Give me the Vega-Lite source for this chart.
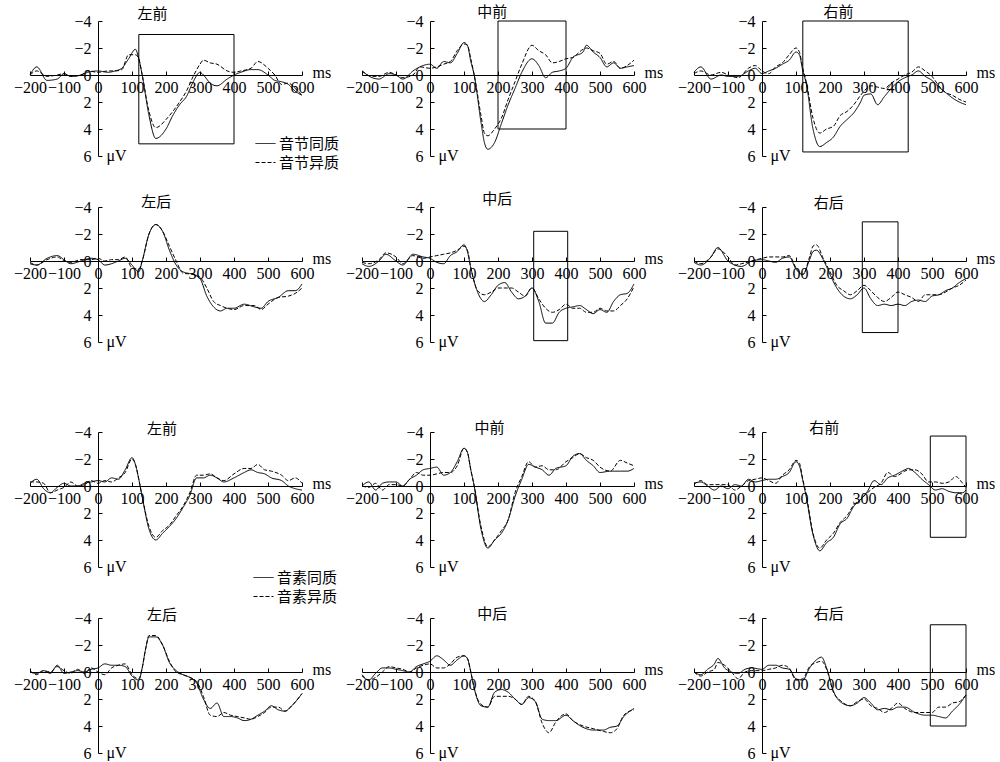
{
"$schema":"https://vega.github.io/schema/vega-lite/v6.json",
"padding":{"left":13,"top":5,"right":0,"bottom":0},
"data":{"values":[
{"p":1,"t":-200,"s":0,"d":0},{"p":1,"t":-180,"s":-0.6,"d":-0.3},{"p":1,"t":-150,"s":0.4,"d":0.1},{"p":1,"t":-120,"s":0.3,"d":0},{"p":1,"t":-100,"s":-0.1,"d":-0.1},{"p":1,"t":-80,"s":0.1,"d":0.1},{"p":1,"t":-50,"s":0,"d":0},{"p":1,"t":-30,"s":-0.2,"d":-0.3},{"p":1,"t":0,"s":-0.3,"d":-0.2},{"p":1,"t":30,"s":-0.2,"d":-0.3},{"p":1,"t":50,"s":-0.3,"d":-0.3},{"p":1,"t":70,"s":-0.5,"d":-0.4},{"p":1,"t":90,"s":-1.2,"d":-1.5},{"p":1,"t":110,"s":-1.9,"d":-1.5},{"p":1,"t":120,"s":-1.2,"d":-1.2},{"p":1,"t":130,"s":0,"d":0},{"p":1,"t":150,"s":3.0,"d":2.7},{"p":1,"t":170,"s":4.7,"d":3.9},{"p":1,"t":180,"s":4.6,"d":3.8},{"p":1,"t":200,"s":4.0,"d":3.3},{"p":1,"t":220,"s":3.0,"d":2.7},{"p":1,"t":240,"s":2.2,"d":2.0},{"p":1,"t":260,"s":1.6,"d":1.2},{"p":1,"t":280,"s":0.5,"d":0.1},{"p":1,"t":300,"s":-0.2,"d":-0.8},{"p":1,"t":310,"s":0,"d":-1.1},{"p":1,"t":330,"s":0.6,"d":-0.9},{"p":1,"t":350,"s":0.8,"d":-0.8},{"p":1,"t":380,"s":0.3,"d":-0.3},{"p":1,"t":400,"s":0,"d":-0.2},{"p":1,"t":420,"s":-0.2,"d":-0.3},{"p":1,"t":450,"s":-0.4,"d":-0.5},{"p":1,"t":470,"s":-0.4,"d":-1.0},{"p":1,"t":500,"s":0,"d":-0.5},{"p":1,"t":520,"s":0.4,"d":0},{"p":1,"t":540,"s":0.5,"d":0.7},{"p":1,"t":560,"s":0.7,"d":0.6},{"p":1,"t":580,"s":1.2,"d":1.0},{"p":1,"t":600,"s":1.5,"d":1.5},
{"p":2,"t":-200,"s":-0.3,"d":-0.3},{"p":2,"t":-170,"s":0.2,"d":0.1},{"p":2,"t":-150,"s":0.3,"d":0.1},{"p":2,"t":-120,"s":-0.1,"d":-0.2},{"p":2,"t":-100,"s":0,"d":0},{"p":2,"t":-80,"s":0.3,"d":0.2},{"p":2,"t":-50,"s":-0.3,"d":0},{"p":2,"t":-30,"s":-0.6,"d":-0.6},{"p":2,"t":0,"s":-0.8,"d":-0.5},{"p":2,"t":20,"s":-0.5,"d":-0.6},{"p":2,"t":40,"s":-1.0,"d":-0.8},{"p":2,"t":60,"s":-0.9,"d":-1.0},{"p":2,"t":80,"s":-1.6,"d":-1.8},{"p":2,"t":100,"s":-2.4,"d":-2.3},{"p":2,"t":110,"s":-2.2,"d":-2.2},{"p":2,"t":120,"s":-1.0,"d":-1.2},{"p":2,"t":130,"s":0,"d":0},{"p":2,"t":150,"s":3.5,"d":3.0},{"p":2,"t":160,"s":5.0,"d":4.3},{"p":2,"t":170,"s":5.5,"d":4.5},{"p":2,"t":190,"s":5.0,"d":4.0},{"p":2,"t":210,"s":3.6,"d":3.2},{"p":2,"t":230,"s":2.2,"d":1.8},{"p":2,"t":250,"s":1.0,"d":0.5},{"p":2,"t":270,"s":-0.2,"d":-0.8},{"p":2,"t":300,"s":-1.2,"d":-2.2},{"p":2,"t":320,"s":-0.7,"d":-1.8},{"p":2,"t":340,"s":0.2,"d":-1.5},{"p":2,"t":360,"s":-0.2,"d":-0.9},{"p":2,"t":380,"s":-0.3,"d":-1.0},{"p":2,"t":400,"s":-0.5,"d":-1.2},{"p":2,"t":420,"s":-1.3,"d":-1.3},{"p":2,"t":450,"s":-1.7,"d":-1.9},{"p":2,"t":460,"s":-2.2,"d":-2.0},{"p":2,"t":480,"s":-1.7,"d":-1.8},{"p":2,"t":500,"s":-1.3,"d":-1.6},{"p":2,"t":520,"s":-0.6,"d":-0.8},{"p":2,"t":540,"s":-0.9,"d":-1.0},{"p":2,"t":560,"s":-0.5,"d":-0.5},{"p":2,"t":580,"s":-0.6,"d":-0.7},{"p":2,"t":600,"s":-0.7,"d":-1.1},
{"p":3,"t":-200,"s":-0.2,"d":-0.1},{"p":3,"t":-180,"s":-0.6,"d":-0.3},{"p":3,"t":-150,"s":0.3,"d":0},{"p":3,"t":-120,"s":0,"d":-0.2},{"p":3,"t":-100,"s":0.1,"d":0},{"p":3,"t":-70,"s":0.1,"d":0.2},{"p":3,"t":-40,"s":-0.3,"d":-0.5},{"p":3,"t":-20,"s":-0.5,"d":-0.7},{"p":3,"t":0,"s":-0.1,"d":-0.3},{"p":3,"t":20,"s":-0.3,"d":-0.1},{"p":3,"t":40,"s":-0.5,"d":-0.6},{"p":3,"t":60,"s":-0.8,"d":-0.9},{"p":3,"t":80,"s":-1.1,"d":-1.5},{"p":3,"t":100,"s":-1.7,"d":-2.0},{"p":3,"t":110,"s":-1.5,"d":-1.7},{"p":3,"t":120,"s":-0.3,"d":-0.5},{"p":3,"t":130,"s":0.6,"d":0.5},{"p":3,"t":150,"s":4.0,"d":3.2},{"p":3,"t":170,"s":5.3,"d":4.3},{"p":3,"t":190,"s":5.0,"d":4.0},{"p":3,"t":210,"s":4.6,"d":3.8},{"p":3,"t":230,"s":3.8,"d":3.0},{"p":3,"t":250,"s":3.3,"d":2.7},{"p":3,"t":270,"s":2.8,"d":2.2},{"p":3,"t":290,"s":2.0,"d":1.5},{"p":3,"t":300,"s":1.5,"d":1.2},{"p":3,"t":320,"s":1.4,"d":0.8},{"p":3,"t":340,"s":2.2,"d":0.9},{"p":3,"t":360,"s":1.6,"d":1.0},{"p":3,"t":380,"s":1.0,"d":0.6},{"p":3,"t":400,"s":0.5,"d":0.3},{"p":3,"t":420,"s":0.2,"d":0},{"p":3,"t":440,"s":0,"d":-0.2},{"p":3,"t":460,"s":-0.3,"d":-0.6},{"p":3,"t":480,"s":0.1,"d":-0.3},{"p":3,"t":500,"s":0.4,"d":0.1},{"p":3,"t":520,"s":0.9,"d":0.8},{"p":3,"t":540,"s":1.3,"d":1.3},{"p":3,"t":560,"s":1.7,"d":1.5},{"p":3,"t":580,"s":2.0,"d":1.8},{"p":3,"t":600,"s":2.2,"d":2.0},
{"p":4,"t":-200,"s":0.2,"d":0.1},{"p":4,"t":-180,"s":0.3,"d":0.3},{"p":4,"t":-150,"s":-0.2,"d":-0.1},{"p":4,"t":-120,"s":-0.4,"d":-0.3},{"p":4,"t":-100,"s":-0.1,"d":0},{"p":4,"t":-80,"s":0.2,"d":0.1},{"p":4,"t":-50,"s":0,"d":-0.1},{"p":4,"t":-20,"s":-0.2,"d":-0.1},{"p":4,"t":0,"s":-0.1,"d":-0.2},{"p":4,"t":20,"s":0.3,"d":0},{"p":4,"t":40,"s":0.2,"d":-0.1},{"p":4,"t":60,"s":0,"d":-0.1},{"p":4,"t":80,"s":-0.2,"d":-0.3},{"p":4,"t":100,"s":0.3,"d":0.5},{"p":4,"t":120,"s":0.8,"d":0.6},{"p":4,"t":130,"s":0,"d":0},{"p":4,"t":150,"s":-2.0,"d":-2.0},{"p":4,"t":170,"s":-2.7,"d":-2.7},{"p":4,"t":190,"s":-2.2,"d":-2.2},{"p":4,"t":210,"s":-0.8,"d":-1.1},{"p":4,"t":230,"s":0.3,"d":0},{"p":4,"t":250,"s":0.8,"d":0.9},{"p":4,"t":280,"s":1.0,"d":1.0},{"p":4,"t":300,"s":1.3,"d":1.2},{"p":4,"t":320,"s":2.6,"d":2.0},{"p":4,"t":340,"s":3.4,"d":3.0},{"p":4,"t":360,"s":3.7,"d":3.3},{"p":4,"t":380,"s":3.5,"d":3.5},{"p":4,"t":400,"s":3.5,"d":3.6},{"p":4,"t":430,"s":3.2,"d":3.3},{"p":4,"t":460,"s":3.4,"d":3.3},{"p":4,"t":480,"s":3.5,"d":3.6},{"p":4,"t":500,"s":3.0,"d":3.2},{"p":4,"t":530,"s":2.7,"d":2.7},{"p":4,"t":560,"s":2.2,"d":2.6},{"p":4,"t":580,"s":2.2,"d":2.4},{"p":4,"t":600,"s":1.7,"d":2.0},
{"p":5,"t":-200,"s":0.2,"d":0.1},{"p":5,"t":-180,"s":0.4,"d":0.2},{"p":5,"t":-150,"s":0,"d":-0.1},{"p":5,"t":-130,"s":-0.5,"d":-0.6},{"p":5,"t":-100,"s":0,"d":-0.3},{"p":5,"t":-80,"s":0.3,"d":0.2},{"p":5,"t":-50,"s":-0.5,"d":-0.4},{"p":5,"t":-20,"s":-0.3,"d":-0.2},{"p":5,"t":0,"s":-0.2,"d":-0.3},{"p":5,"t":20,"s":0.1,"d":-0.4},{"p":5,"t":40,"s":0.2,"d":-0.5},{"p":5,"t":60,"s":-0.4,"d":-0.6},{"p":5,"t":80,"s":-0.7,"d":-0.8},{"p":5,"t":100,"s":-1.2,"d":-1.1},{"p":5,"t":110,"s":-0.7,"d":-0.8},{"p":5,"t":120,"s":0.5,"d":0.5},{"p":5,"t":140,"s":2.3,"d":2.2},{"p":5,"t":160,"s":3.0,"d":2.5},{"p":5,"t":180,"s":2.5,"d":2.3},{"p":5,"t":200,"s":1.8,"d":2.0},{"p":5,"t":220,"s":1.6,"d":2.0},{"p":5,"t":240,"s":2.3,"d":2.0},{"p":5,"t":260,"s":2.8,"d":2.3},{"p":5,"t":280,"s":2.6,"d":2.6},{"p":5,"t":300,"s":2.0,"d":2.0},{"p":5,"t":320,"s":3.0,"d":2.8},{"p":5,"t":340,"s":4.6,"d":3.5},{"p":5,"t":360,"s":4.6,"d":3.8},{"p":5,"t":380,"s":3.8,"d":3.6},{"p":5,"t":400,"s":3.5,"d":3.2},{"p":5,"t":420,"s":3.4,"d":3.5},{"p":5,"t":440,"s":3.3,"d":3.5},{"p":5,"t":460,"s":3.6,"d":3.8},{"p":5,"t":480,"s":3.9,"d":3.8},{"p":5,"t":500,"s":3.6,"d":3.5},{"p":5,"t":520,"s":3.8,"d":3.7},{"p":5,"t":540,"s":3.0,"d":3.7},{"p":5,"t":560,"s":2.5,"d":3.3},{"p":5,"t":580,"s":2.4,"d":2.8},{"p":5,"t":600,"s":1.7,"d":1.9},
{"p":6,"t":-200,"s":0.1,"d":0},{"p":6,"t":-180,"s":0.3,"d":0.2},{"p":6,"t":-150,"s":-0.3,"d":-0.3},{"p":6,"t":-130,"s":-1.0,"d":-0.9},{"p":6,"t":-100,"s":0,"d":-0.3},{"p":6,"t":-80,"s":0.3,"d":0.3},{"p":6,"t":-60,"s":0.4,"d":0.2},{"p":6,"t":-30,"s":0,"d":0},{"p":6,"t":0,"s":-0.1,"d":-0.2},{"p":6,"t":20,"s":0,"d":-0.3},{"p":6,"t":40,"s":0.1,"d":-0.3},{"p":6,"t":60,"s":-0.2,"d":-0.3},{"p":6,"t":80,"s":-0.3,"d":-0.4},{"p":6,"t":100,"s":0.6,"d":0.5},{"p":6,"t":120,"s":1.0,"d":1.0},{"p":6,"t":140,"s":-0.1,"d":-0.3},{"p":6,"t":150,"s":-0.7,"d":-1.1},{"p":6,"t":160,"s":-0.8,"d":-1.2},{"p":6,"t":180,"s":-0.1,"d":-0.2},{"p":6,"t":200,"s":1.0,"d":0.8},{"p":6,"t":220,"s":2.0,"d":1.8},{"p":6,"t":240,"s":2.6,"d":2.2},{"p":6,"t":260,"s":2.8,"d":2.5},{"p":6,"t":280,"s":2.5,"d":2.2},{"p":6,"t":300,"s":2.0,"d":1.8},{"p":6,"t":320,"s":2.8,"d":2.2},{"p":6,"t":340,"s":3.3,"d":2.7},{"p":6,"t":360,"s":3.2,"d":3.0},{"p":6,"t":380,"s":3.3,"d":2.7},{"p":6,"t":400,"s":3.2,"d":2.3},{"p":6,"t":420,"s":3.3,"d":2.5},{"p":6,"t":440,"s":3.0,"d":2.7},{"p":6,"t":460,"s":2.9,"d":3.0},{"p":6,"t":480,"s":3.0,"d":2.5},{"p":6,"t":500,"s":2.6,"d":2.5},{"p":6,"t":520,"s":2.5,"d":2.5},{"p":6,"t":540,"s":2.2,"d":2.3},{"p":6,"t":560,"s":2.0,"d":2.0},{"p":6,"t":580,"s":1.6,"d":1.8},{"p":6,"t":600,"s":1.3,"d":1.4},
{"p":7,"t":-200,"s":-0.2,"d":-0.3},{"p":7,"t":-180,"s":-0.5,"d":-0.3},{"p":7,"t":-160,"s":0.2,"d":-0.2},{"p":7,"t":-140,"s":0.5,"d":0.5},{"p":7,"t":-120,"s":0.1,"d":0.3},{"p":7,"t":-100,"s":-0.2,"d":0.1},{"p":7,"t":-80,"s":0,"d":-0.3},{"p":7,"t":-60,"s":0,"d":0},{"p":7,"t":-40,"s":-0.2,"d":-0.1},{"p":7,"t":-20,"s":-0.3,"d":-0.4},{"p":7,"t":0,"s":-0.4,"d":-0.2},{"p":7,"t":20,"s":-0.3,"d":-0.4},{"p":7,"t":40,"s":-0.6,"d":-0.3},{"p":7,"t":60,"s":-0.5,"d":-0.6},{"p":7,"t":80,"s":-1.2,"d":-1.0},{"p":7,"t":100,"s":-2.1,"d":-2.0},{"p":7,"t":110,"s":-1.6,"d":-1.6},{"p":7,"t":120,"s":-0.5,"d":-0.5},{"p":7,"t":130,"s":0.8,"d":0.8},{"p":7,"t":150,"s":3.2,"d":3.0},{"p":7,"t":170,"s":4.0,"d":3.8},{"p":7,"t":190,"s":3.5,"d":3.3},{"p":7,"t":210,"s":3.0,"d":2.9},{"p":7,"t":230,"s":2.4,"d":2.2},{"p":7,"t":250,"s":1.6,"d":1.5},{"p":7,"t":270,"s":0.7,"d":0.5},{"p":7,"t":290,"s":-0.6,"d":-0.8},{"p":7,"t":310,"s":-0.6,"d":-0.8},{"p":7,"t":330,"s":-0.8,"d":-0.9},{"p":7,"t":350,"s":-0.6,"d":-0.6},{"p":7,"t":370,"s":-0.3,"d":-0.4},{"p":7,"t":400,"s":-0.6,"d":-0.9},{"p":7,"t":430,"s":-1.0,"d":-1.3},{"p":7,"t":450,"s":-1.2,"d":-1.3},{"p":7,"t":470,"s":-1.0,"d":-1.6},{"p":7,"t":490,"s":-0.9,"d":-1.2},{"p":7,"t":510,"s":-0.6,"d":-1.1},{"p":7,"t":540,"s":-0.4,"d":-0.8},{"p":7,"t":560,"s":0,"d":-0.4},{"p":7,"t":580,"s":0.2,"d":-0.6},{"p":7,"t":600,"s":0.3,"d":-0.2},
{"p":8,"t":-200,"s":0,"d":0},{"p":8,"t":-180,"s":-0.3,"d":0.1},{"p":8,"t":-160,"s":0.3,"d":-0.2},{"p":8,"t":-140,"s":-0.2,"d":0.3},{"p":8,"t":-120,"s":-0.3,"d":-0.1},{"p":8,"t":-100,"s":-0.3,"d":-0.1},{"p":8,"t":-80,"s":0,"d":0},{"p":8,"t":-60,"s":-0.5,"d":-0.5},{"p":8,"t":-40,"s":-0.8,"d":-1.0},{"p":8,"t":-20,"s":-1.2,"d":-0.8},{"p":8,"t":0,"s":-1.3,"d":-0.8},{"p":8,"t":20,"s":-1.4,"d":-0.9},{"p":8,"t":40,"s":-0.8,"d":-1.0},{"p":8,"t":60,"s":-1.0,"d":-1.0},{"p":8,"t":80,"s":-1.8,"d":-1.5},{"p":8,"t":100,"s":-2.8,"d":-2.8},{"p":8,"t":110,"s":-2.5,"d":-2.5},{"p":8,"t":120,"s":-1.2,"d":-1.2},{"p":8,"t":130,"s":0,"d":0},{"p":8,"t":150,"s":3.2,"d":3.0},{"p":8,"t":170,"s":4.6,"d":4.5},{"p":8,"t":190,"s":4.0,"d":4.0},{"p":8,"t":210,"s":3.5,"d":3.3},{"p":8,"t":230,"s":2.5,"d":2.5},{"p":8,"t":250,"s":0.8,"d":0.5},{"p":8,"t":270,"s":-0.5,"d":-0.7},{"p":8,"t":290,"s":-1.6,"d":-1.8},{"p":8,"t":310,"s":-1.4,"d":-1.4},{"p":8,"t":330,"s":-1.2,"d":-1.5},{"p":8,"t":350,"s":-0.8,"d":-1.2},{"p":8,"t":370,"s":-1.3,"d":-1.2},{"p":8,"t":400,"s":-1.5,"d":-1.8},{"p":8,"t":420,"s":-2.2,"d":-2.1},{"p":8,"t":440,"s":-2.4,"d":-2.4},{"p":8,"t":460,"s":-1.9,"d":-2.1},{"p":8,"t":480,"s":-1.5,"d":-1.9},{"p":8,"t":500,"s":-1.0,"d":-1.4},{"p":8,"t":530,"s":-1.1,"d":-1.1},{"p":8,"t":560,"s":-1.1,"d":-1.9},{"p":8,"t":580,"s":-1.1,"d":-1.7},{"p":8,"t":600,"s":-1.3,"d":-1.5},
{"p":9,"t":-200,"s":-0.2,"d":-0.1},{"p":9,"t":-180,"s":-0.3,"d":-0.4},{"p":9,"t":-160,"s":0,"d":-0.1},{"p":9,"t":-140,"s":0.3,"d":-0.1},{"p":9,"t":-120,"s":0,"d":-0.1},{"p":9,"t":-100,"s":0.2,"d":-0.1},{"p":9,"t":-80,"s":-0.1,"d":0.3},{"p":9,"t":-60,"s":0,"d":0},{"p":9,"t":-40,"s":-0.5,"d":-0.4},{"p":9,"t":-20,"s":-0.3,"d":-0.5},{"p":9,"t":0,"s":-0.4,"d":-0.6},{"p":9,"t":20,"s":-0.5,"d":-0.4},{"p":9,"t":40,"s":-0.5,"d":-0.2},{"p":9,"t":60,"s":-0.7,"d":-0.8},{"p":9,"t":80,"s":-1.0,"d":-1.2},{"p":9,"t":100,"s":-1.8,"d":-1.9},{"p":9,"t":110,"s":-1.5,"d":-1.7},{"p":9,"t":120,"s":-0.4,"d":-0.5},{"p":9,"t":130,"s":0.8,"d":0.6},{"p":9,"t":150,"s":3.6,"d":3.5},{"p":9,"t":170,"s":4.8,"d":4.6},{"p":9,"t":190,"s":4.2,"d":4.0},{"p":9,"t":210,"s":3.8,"d":3.5},{"p":9,"t":230,"s":2.8,"d":2.7},{"p":9,"t":250,"s":2.4,"d":2.2},{"p":9,"t":270,"s":1.5,"d":1.4},{"p":9,"t":290,"s":1.0,"d":1.0},{"p":9,"t":310,"s":0.4,"d":0.5},{"p":9,"t":330,"s":-0.4,"d":0.1},{"p":9,"t":350,"s":-0.1,"d":-0.2},{"p":9,"t":370,"s":-0.6,"d":-1.0},{"p":9,"t":390,"s":-0.8,"d":-0.7},{"p":9,"t":420,"s":-1.2,"d":-1.1},{"p":9,"t":430,"s":-1.3,"d":-1.2},{"p":9,"t":450,"s":-1.0,"d":-1.2},{"p":9,"t":470,"s":-0.5,"d":-0.9},{"p":9,"t":490,"s":-0.1,"d":-0.3},{"p":9,"t":510,"s":0.3,"d":-0.3},{"p":9,"t":530,"s":0.2,"d":-0.2},{"p":9,"t":550,"s":0.4,"d":-0.3},{"p":9,"t":570,"s":0.5,"d":-0.7},{"p":9,"t":590,"s":0.5,"d":-0.2},{"p":9,"t":600,"s":0.3,"d":0.1},
{"p":10,"t":-200,"s":0,"d":-0.1},{"p":10,"t":-180,"s":0.1,"d":0.2},{"p":10,"t":-160,"s":-0.1,"d":-0.1},{"p":10,"t":-140,"s":0.1,"d":0},{"p":10,"t":-120,"s":-0.5,"d":-0.4},{"p":10,"t":-100,"s":0.1,"d":-0.1},{"p":10,"t":-80,"s":0,"d":0.1},{"p":10,"t":-60,"s":-0.1,"d":-0.2},{"p":10,"t":-40,"s":0,"d":0.1},{"p":10,"t":-20,"s":-0.2,"d":-0.3},{"p":10,"t":0,"s":-0.3,"d":0},{"p":10,"t":20,"s":-0.6,"d":0.2},{"p":10,"t":40,"s":-0.5,"d":-0.3},{"p":10,"t":60,"s":-0.5,"d":-0.5},{"p":10,"t":80,"s":-0.4,"d":-0.6},{"p":10,"t":100,"s":0.3,"d":0.2},{"p":10,"t":120,"s":0.6,"d":0.5},{"p":10,"t":130,"s":-0.3,"d":-0.3},{"p":10,"t":140,"s":-1.7,"d":-1.7},{"p":10,"t":150,"s":-2.6,"d":-2.7},{"p":10,"t":170,"s":-2.6,"d":-2.7},{"p":10,"t":190,"s":-2.0,"d":-2.0},{"p":10,"t":210,"s":-0.7,"d":-0.8},{"p":10,"t":230,"s":-0.1,"d":0},{"p":10,"t":250,"s":0.2,"d":0.2},{"p":10,"t":270,"s":0.4,"d":0.4},{"p":10,"t":290,"s":0.8,"d":0.7},{"p":10,"t":310,"s":2.0,"d":1.8},{"p":10,"t":330,"s":2.7,"d":3.2},{"p":10,"t":350,"s":2.3,"d":3.3},{"p":10,"t":370,"s":3.3,"d":3.0},{"p":10,"t":390,"s":3.3,"d":3.2},{"p":10,"t":410,"s":3.4,"d":3.3},{"p":10,"t":430,"s":3.6,"d":3.4},{"p":10,"t":450,"s":3.5,"d":3.5},{"p":10,"t":470,"s":3.2,"d":3.3},{"p":10,"t":490,"s":2.9,"d":3.0},{"p":10,"t":510,"s":2.5,"d":2.6},{"p":10,"t":530,"s":2.8,"d":2.6},{"p":10,"t":550,"s":2.9,"d":2.9},{"p":10,"t":570,"s":2.5,"d":2.5},{"p":10,"t":600,"s":1.6,"d":1.6},
{"p":11,"t":-200,"s":0.3,"d":0.2},{"p":11,"t":-180,"s":0.6,"d":0.6},{"p":11,"t":-160,"s":0.1,"d":0.4},{"p":11,"t":-140,"s":-0.3,"d":0},{"p":11,"t":-120,"s":-0.3,"d":-0.4},{"p":11,"t":-100,"s":-0.2,"d":-0.3},{"p":11,"t":-80,"s":-0.1,"d":-0.2},{"p":11,"t":-60,"s":0,"d":0},{"p":11,"t":-40,"s":-0.4,"d":-0.3},{"p":11,"t":-20,"s":-0.6,"d":-0.5},{"p":11,"t":0,"s":-0.8,"d":-0.6},{"p":11,"t":20,"s":-1.2,"d":-0.3},{"p":11,"t":40,"s":-0.9,"d":-0.3},{"p":11,"t":60,"s":-0.5,"d":-0.6},{"p":11,"t":80,"s":-0.9,"d":-1.1},{"p":11,"t":100,"s":-1.2,"d":-1.2},{"p":11,"t":110,"s":-1.0,"d":-1.0},{"p":11,"t":120,"s":0,"d":0},{"p":11,"t":130,"s":1.2,"d":1.2},{"p":11,"t":150,"s":2.5,"d":2.4},{"p":11,"t":170,"s":2.6,"d":2.6},{"p":11,"t":190,"s":1.5,"d":1.8},{"p":11,"t":210,"s":1.3,"d":1.8},{"p":11,"t":230,"s":1.5,"d":1.8},{"p":11,"t":250,"s":2.0,"d":2.0},{"p":11,"t":270,"s":2.4,"d":2.4},{"p":11,"t":290,"s":1.9,"d":1.8},{"p":11,"t":310,"s":2.2,"d":2.2},{"p":11,"t":330,"s":3.5,"d":3.8},{"p":11,"t":350,"s":3.6,"d":4.5},{"p":11,"t":370,"s":3.6,"d":3.7},{"p":11,"t":400,"s":3.2,"d":3.1},{"p":11,"t":420,"s":3.6,"d":3.6},{"p":11,"t":450,"s":4.1,"d":4.0},{"p":11,"t":480,"s":4.3,"d":4.2},{"p":11,"t":510,"s":4.3,"d":4.4},{"p":11,"t":530,"s":4.1,"d":4.5},{"p":11,"t":550,"s":4.0,"d":4.2},{"p":11,"t":570,"s":3.3,"d":3.2},{"p":11,"t":600,"s":2.7,"d":2.8},
{"p":12,"t":-200,"s":0,"d":0},{"p":12,"t":-180,"s":0.2,"d":0.3},{"p":12,"t":-160,"s":-0.2,"d":0},{"p":12,"t":-140,"s":-0.6,"d":-0.2},{"p":12,"t":-130,"s":-1.0,"d":-0.7},{"p":12,"t":-110,"s":-0.3,"d":-0.5},{"p":12,"t":-90,"s":0,"d":0},{"p":12,"t":-70,"s":0.1,"d":0.5},{"p":12,"t":-50,"s":-0.2,"d":0},{"p":12,"t":-30,"s":-0.3,"d":-0.1},{"p":12,"t":0,"s":-0.2,"d":-0.1},{"p":12,"t":20,"s":-0.5,"d":-0.2},{"p":12,"t":40,"s":-0.5,"d":-0.3},{"p":12,"t":60,"s":-0.3,"d":-0.5},{"p":12,"t":80,"s":-0.2,"d":-0.3},{"p":12,"t":100,"s":0.5,"d":0.6},{"p":12,"t":120,"s":0.6,"d":0.5},{"p":12,"t":140,"s":-0.3,"d":-0.4},{"p":12,"t":160,"s":-0.9,"d":-0.7},{"p":12,"t":175,"s":-1.1,"d":-0.8},{"p":12,"t":190,"s":-0.3,"d":-0.2},{"p":12,"t":210,"s":1.4,"d":1.5},{"p":12,"t":230,"s":2.2,"d":2.1},{"p":12,"t":260,"s":2.5,"d":2.5},{"p":12,"t":280,"s":2.3,"d":2.2},{"p":12,"t":300,"s":1.9,"d":2.0},{"p":12,"t":320,"s":2.3,"d":2.5},{"p":12,"t":340,"s":2.8,"d":2.7},{"p":12,"t":360,"s":2.7,"d":3.0},{"p":12,"t":380,"s":2.8,"d":2.7},{"p":12,"t":400,"s":2.6,"d":2.3},{"p":12,"t":420,"s":2.6,"d":2.7},{"p":12,"t":450,"s":3.0,"d":3.0},{"p":12,"t":480,"s":3.2,"d":3.0},{"p":12,"t":500,"s":3.2,"d":3.0},{"p":12,"t":520,"s":3.3,"d":2.6},{"p":12,"t":540,"s":3.4,"d":2.6},{"p":12,"t":560,"s":2.9,"d":2.3},{"p":12,"t":580,"s":2.4,"d":2.2},{"p":12,"t":600,"s":1.7,"d":1.7},
{"p":1,"t":120,"t2":400,"v":-3,"v2":5.1},{"p":2,"t":200,"t2":400,"v":-4,"v2":4},{"p":3,"t":120,"t2":430,"v":-4,"v2":5.7},{"p":5,"t":305,"t2":405,"v":-2.2,"v2":5.9},{"p":6,"t":295,"t2":400,"v":-2.9,"v2":5.3},{"p":9,"t":495,"t2":600,"v":-3.7,"v2":3.8},{"p":12,"t":495,"t2":600,"v":-3.5,"v2":4},
{"p":1,"t":160,"v":-4.55,"label":"左前"},{"p":2,"t":183,"v":-4.65,"label":"中前"},{"p":3,"t":225,"v":-4.65,"label":"右前"},{"p":4,"t":171,"v":-4.4,"label":"左后"},{"p":5,"t":198,"v":-4.6,"label":"中后"},{"p":6,"t":196,"v":-4.3,"label":"右后"},{"p":7,"t":188,"v":-4.2,"label":"左前"},{"p":8,"t":175,"v":-4.33,"label":"中前"},{"p":9,"t":183,"v":-4.26,"label":"右前"},{"p":10,"t":188,"v":-4.2,"label":"左后"},{"p":11,"t":183,"v":-4.3,"label":"中后"},{"p":12,"t":196,"v":-4.3,"label":"右后"}
]},
"concat":[
 {"transform":[{"filter":"datum.p == 1"}],"width":272,"height":135,"encoding":{"x":{"field":"t","type":"quantitative","scale":{"domain":[-200,600],"nice":false,"zero":false},"axis":{"values":[-200,-100,0,100,200,300,400,500,600],"offset":-81,"labelPadding":8,"labelOverlap":false,"title":"ms","titleX":282,"titleY":2,"titleAlign":"left","titleBaseline":"alphabetic","titleAnchor":"start"}},"y":{"field":"v","type":"quantitative","scale":{"domain":[-4,6],"reverse":true,"nice":false,"zero":false},"axis":{"values":[-4,-2,0,2,4,6],"offset":-68,"labelPadding":11,"labelOverlap":false,"title":"μV","titleAngle":0,"titleX":8,"titleY":134,"titleAlign":"left","titleBaseline":"middle","titleAnchor":"start"}}},
  "layer":[{"transform":[{"filter":"isValid(datum.t2)"}],"mark":{"type":"rect","filled":false,"stroke":"black","strokeWidth":1},"encoding":{"x2":{"field":"t2"},"y2":{"field":"v2"}}},{"transform":[{"filter":"isValid(datum.s)"},{"fold":["s","d"],"as":["k","v"]}],"mark":{"type":"line","stroke":"black","strokeWidth":1,"interpolate":"monotone"},"encoding":{"strokeDash":{"field":"k","type":"nominal","scale":{"domain":["s","d"],"range":[[1,0],[4,2]]},"legend":{"orient":"none","legendX":225,"legendY":112,"labelExpr":"datum.label == 's' ? '音节同质' : '音节异质'"}}}},{"transform":[{"filter":"isValid(datum.label)"}],"mark":{"type":"text","font":"Noto Sans CJK SC","fontSize":15,"color":"black"},"encoding":{"text":{"field":"label"}}}]},
 {"transform":[{"filter":"datum.p == 2"}],"width":272,"height":135,"encoding":{"x":{"field":"t","type":"quantitative","scale":{"domain":[-200,600],"nice":false,"zero":false},"axis":{"values":[-200,-100,0,100,200,300,400,500,600],"offset":-81,"labelPadding":8,"labelOverlap":false,"title":"ms","titleX":282,"titleY":2,"titleAlign":"left","titleBaseline":"alphabetic","titleAnchor":"start"}},"y":{"field":"v","type":"quantitative","scale":{"domain":[-4,6],"reverse":true,"nice":false,"zero":false},"axis":{"values":[-4,-2,0,2,4,6],"offset":-68,"labelPadding":11,"labelOverlap":false,"title":"μV","titleAngle":0,"titleX":8,"titleY":134,"titleAlign":"left","titleBaseline":"middle","titleAnchor":"start"}}},
  "layer":[{"transform":[{"filter":"isValid(datum.t2)"}],"mark":{"type":"rect","filled":false,"stroke":"black","strokeWidth":1},"encoding":{"x2":{"field":"t2"},"y2":{"field":"v2"}}},{"transform":[{"filter":"isValid(datum.s)"},{"fold":["s","d"],"as":["k","v"]}],"mark":{"type":"line","stroke":"black","strokeWidth":1,"interpolate":"monotone"},"encoding":{"strokeDash":{"field":"k","type":"nominal","scale":{"domain":["s","d"],"range":[[1,0],[4,2]]},"legend":null}}},{"transform":[{"filter":"isValid(datum.label)"}],"mark":{"type":"text","font":"Noto Sans CJK SC","fontSize":15,"color":"black"},"encoding":{"text":{"field":"label"}}}]},
 {"transform":[{"filter":"datum.p == 3"}],"width":272,"height":135,"encoding":{"x":{"field":"t","type":"quantitative","scale":{"domain":[-200,600],"nice":false,"zero":false},"axis":{"values":[-200,-100,0,100,200,300,400,500,600],"offset":-81,"labelPadding":8,"labelOverlap":false,"title":"ms","titleX":282,"titleY":2,"titleAlign":"left","titleBaseline":"alphabetic","titleAnchor":"start"}},"y":{"field":"v","type":"quantitative","scale":{"domain":[-4,6],"reverse":true,"nice":false,"zero":false},"axis":{"values":[-4,-2,0,2,4,6],"offset":-68,"labelPadding":11,"labelOverlap":false,"title":"μV","titleAngle":0,"titleX":8,"titleY":134,"titleAlign":"left","titleBaseline":"middle","titleAnchor":"start"}}},
  "layer":[{"transform":[{"filter":"isValid(datum.t2)"}],"mark":{"type":"rect","filled":false,"stroke":"black","strokeWidth":1},"encoding":{"x2":{"field":"t2"},"y2":{"field":"v2"}}},{"transform":[{"filter":"isValid(datum.s)"},{"fold":["s","d"],"as":["k","v"]}],"mark":{"type":"line","stroke":"black","strokeWidth":1,"interpolate":"monotone"},"encoding":{"strokeDash":{"field":"k","type":"nominal","scale":{"domain":["s","d"],"range":[[1,0],[4,2]]},"legend":null}}},{"transform":[{"filter":"isValid(datum.label)"}],"mark":{"type":"text","font":"Noto Sans CJK SC","fontSize":15,"color":"black"},"encoding":{"text":{"field":"label"}}}]},
 {"data":{"values":[]},"width":10,"height":51,"mark":{"type":"point","opacity":0}},
 {"data":{"values":[]},"width":10,"height":51,"mark":{"type":"point","opacity":0}},
 {"data":{"values":[]},"width":10,"height":51,"mark":{"type":"point","opacity":0}},
 {"transform":[{"filter":"datum.p == 4"}],"width":272,"height":135,"encoding":{"x":{"field":"t","type":"quantitative","scale":{"domain":[-200,600],"nice":false,"zero":false},"axis":{"values":[-200,-100,0,100,200,300,400,500,600],"offset":-81,"labelPadding":8,"labelOverlap":false,"title":"ms","titleX":282,"titleY":2,"titleAlign":"left","titleBaseline":"alphabetic","titleAnchor":"start"}},"y":{"field":"v","type":"quantitative","scale":{"domain":[-4,6],"reverse":true,"nice":false,"zero":false},"axis":{"values":[-4,-2,0,2,4,6],"offset":-68,"labelPadding":11,"labelOverlap":false,"title":"μV","titleAngle":0,"titleX":8,"titleY":134,"titleAlign":"left","titleBaseline":"middle","titleAnchor":"start"}}},
  "layer":[{"transform":[{"filter":"isValid(datum.t2)"}],"mark":{"type":"rect","filled":false,"stroke":"black","strokeWidth":1},"encoding":{"x2":{"field":"t2"},"y2":{"field":"v2"}}},{"transform":[{"filter":"isValid(datum.s)"},{"fold":["s","d"],"as":["k","v"]}],"mark":{"type":"line","stroke":"black","strokeWidth":1,"interpolate":"monotone"},"encoding":{"strokeDash":{"field":"k","type":"nominal","scale":{"domain":["s","d"],"range":[[1,0],[4,2]]},"legend":null}}},{"transform":[{"filter":"isValid(datum.label)"}],"mark":{"type":"text","font":"Noto Sans CJK SC","fontSize":15,"color":"black"},"encoding":{"text":{"field":"label"}}}]},
 {"transform":[{"filter":"datum.p == 5"}],"width":272,"height":135,"encoding":{"x":{"field":"t","type":"quantitative","scale":{"domain":[-200,600],"nice":false,"zero":false},"axis":{"values":[-200,-100,0,100,200,300,400,500,600],"offset":-81,"labelPadding":8,"labelOverlap":false,"title":"ms","titleX":282,"titleY":2,"titleAlign":"left","titleBaseline":"alphabetic","titleAnchor":"start"}},"y":{"field":"v","type":"quantitative","scale":{"domain":[-4,6],"reverse":true,"nice":false,"zero":false},"axis":{"values":[-4,-2,0,2,4,6],"offset":-68,"labelPadding":11,"labelOverlap":false,"title":"μV","titleAngle":0,"titleX":8,"titleY":134,"titleAlign":"left","titleBaseline":"middle","titleAnchor":"start"}}},
  "layer":[{"transform":[{"filter":"isValid(datum.t2)"}],"mark":{"type":"rect","filled":false,"stroke":"black","strokeWidth":1},"encoding":{"x2":{"field":"t2"},"y2":{"field":"v2"}}},{"transform":[{"filter":"isValid(datum.s)"},{"fold":["s","d"],"as":["k","v"]}],"mark":{"type":"line","stroke":"black","strokeWidth":1,"interpolate":"monotone"},"encoding":{"strokeDash":{"field":"k","type":"nominal","scale":{"domain":["s","d"],"range":[[1,0],[4,2]]},"legend":null}}},{"transform":[{"filter":"isValid(datum.label)"}],"mark":{"type":"text","font":"Noto Sans CJK SC","fontSize":15,"color":"black"},"encoding":{"text":{"field":"label"}}}]},
 {"transform":[{"filter":"datum.p == 6"}],"width":272,"height":135,"encoding":{"x":{"field":"t","type":"quantitative","scale":{"domain":[-200,600],"nice":false,"zero":false},"axis":{"values":[-200,-100,0,100,200,300,400,500,600],"offset":-81,"labelPadding":8,"labelOverlap":false,"title":"ms","titleX":282,"titleY":2,"titleAlign":"left","titleBaseline":"alphabetic","titleAnchor":"start"}},"y":{"field":"v","type":"quantitative","scale":{"domain":[-4,6],"reverse":true,"nice":false,"zero":false},"axis":{"values":[-4,-2,0,2,4,6],"offset":-68,"labelPadding":11,"labelOverlap":false,"title":"μV","titleAngle":0,"titleX":8,"titleY":134,"titleAlign":"left","titleBaseline":"middle","titleAnchor":"start"}}},
  "layer":[{"transform":[{"filter":"isValid(datum.t2)"}],"mark":{"type":"rect","filled":false,"stroke":"black","strokeWidth":1},"encoding":{"x2":{"field":"t2"},"y2":{"field":"v2"}}},{"transform":[{"filter":"isValid(datum.s)"},{"fold":["s","d"],"as":["k","v"]}],"mark":{"type":"line","stroke":"black","strokeWidth":1,"interpolate":"monotone"},"encoding":{"strokeDash":{"field":"k","type":"nominal","scale":{"domain":["s","d"],"range":[[1,0],[4,2]]},"legend":null}}},{"transform":[{"filter":"isValid(datum.label)"}],"mark":{"type":"text","font":"Noto Sans CJK SC","fontSize":15,"color":"black"},"encoding":{"text":{"field":"label"}}}]},
 {"data":{"values":[]},"width":10,"height":90,"mark":{"type":"point","opacity":0}},
 {"data":{"values":[]},"width":10,"height":90,"mark":{"type":"point","opacity":0}},
 {"data":{"values":[]},"width":10,"height":90,"mark":{"type":"point","opacity":0}},
 {"transform":[{"filter":"datum.p == 7"}],"width":272,"height":135,"encoding":{"x":{"field":"t","type":"quantitative","scale":{"domain":[-200,600],"nice":false,"zero":false},"axis":{"values":[-200,-100,0,100,200,300,400,500,600],"offset":-81,"labelPadding":8,"labelOverlap":false,"title":"ms","titleX":282,"titleY":2,"titleAlign":"left","titleBaseline":"alphabetic","titleAnchor":"start"}},"y":{"field":"v","type":"quantitative","scale":{"domain":[-4,6],"reverse":true,"nice":false,"zero":false},"axis":{"values":[-4,-2,0,2,4,6],"offset":-68,"labelPadding":11,"labelOverlap":false,"title":"μV","titleAngle":0,"titleX":8,"titleY":134,"titleAlign":"left","titleBaseline":"middle","titleAnchor":"start"}}},
  "layer":[{"transform":[{"filter":"isValid(datum.t2)"}],"mark":{"type":"rect","filled":false,"stroke":"black","strokeWidth":1},"encoding":{"x2":{"field":"t2"},"y2":{"field":"v2"}}},{"transform":[{"filter":"isValid(datum.s)"},{"fold":["s","d"],"as":["k","v"]}],"mark":{"type":"line","stroke":"black","strokeWidth":1,"interpolate":"monotone"},"encoding":{"strokeDash":{"field":"k","type":"nominal","scale":{"domain":["s","d"],"range":[[1,0],[4,2]]},"legend":{"orient":"none","legendX":223,"legendY":135,"labelExpr":"datum.label == 's' ? '音素同质' : '音素异质'"}}}},{"transform":[{"filter":"isValid(datum.label)"}],"mark":{"type":"text","font":"Noto Sans CJK SC","fontSize":15,"color":"black"},"encoding":{"text":{"field":"label"}}}]},
 {"transform":[{"filter":"datum.p == 8"}],"width":272,"height":135,"encoding":{"x":{"field":"t","type":"quantitative","scale":{"domain":[-200,600],"nice":false,"zero":false},"axis":{"values":[-200,-100,0,100,200,300,400,500,600],"offset":-81,"labelPadding":8,"labelOverlap":false,"title":"ms","titleX":282,"titleY":2,"titleAlign":"left","titleBaseline":"alphabetic","titleAnchor":"start"}},"y":{"field":"v","type":"quantitative","scale":{"domain":[-4,6],"reverse":true,"nice":false,"zero":false},"axis":{"values":[-4,-2,0,2,4,6],"offset":-68,"labelPadding":11,"labelOverlap":false,"title":"μV","titleAngle":0,"titleX":8,"titleY":134,"titleAlign":"left","titleBaseline":"middle","titleAnchor":"start"}}},
  "layer":[{"transform":[{"filter":"isValid(datum.t2)"}],"mark":{"type":"rect","filled":false,"stroke":"black","strokeWidth":1},"encoding":{"x2":{"field":"t2"},"y2":{"field":"v2"}}},{"transform":[{"filter":"isValid(datum.s)"},{"fold":["s","d"],"as":["k","v"]}],"mark":{"type":"line","stroke":"black","strokeWidth":1,"interpolate":"monotone"},"encoding":{"strokeDash":{"field":"k","type":"nominal","scale":{"domain":["s","d"],"range":[[1,0],[4,2]]},"legend":null}}},{"transform":[{"filter":"isValid(datum.label)"}],"mark":{"type":"text","font":"Noto Sans CJK SC","fontSize":15,"color":"black"},"encoding":{"text":{"field":"label"}}}]},
 {"transform":[{"filter":"datum.p == 9"}],"width":272,"height":135,"encoding":{"x":{"field":"t","type":"quantitative","scale":{"domain":[-200,600],"nice":false,"zero":false},"axis":{"values":[-200,-100,0,100,200,300,400,500,600],"offset":-81,"labelPadding":8,"labelOverlap":false,"title":"ms","titleX":282,"titleY":2,"titleAlign":"left","titleBaseline":"alphabetic","titleAnchor":"start"}},"y":{"field":"v","type":"quantitative","scale":{"domain":[-4,6],"reverse":true,"nice":false,"zero":false},"axis":{"values":[-4,-2,0,2,4,6],"offset":-68,"labelPadding":11,"labelOverlap":false,"title":"μV","titleAngle":0,"titleX":8,"titleY":134,"titleAlign":"left","titleBaseline":"middle","titleAnchor":"start"}}},
  "layer":[{"transform":[{"filter":"isValid(datum.t2)"}],"mark":{"type":"rect","filled":false,"stroke":"black","strokeWidth":1},"encoding":{"x2":{"field":"t2"},"y2":{"field":"v2"}}},{"transform":[{"filter":"isValid(datum.s)"},{"fold":["s","d"],"as":["k","v"]}],"mark":{"type":"line","stroke":"black","strokeWidth":1,"interpolate":"monotone"},"encoding":{"strokeDash":{"field":"k","type":"nominal","scale":{"domain":["s","d"],"range":[[1,0],[4,2]]},"legend":null}}},{"transform":[{"filter":"isValid(datum.label)"}],"mark":{"type":"text","font":"Noto Sans CJK SC","fontSize":15,"color":"black"},"encoding":{"text":{"field":"label"}}}]},
 {"data":{"values":[]},"width":10,"height":51,"mark":{"type":"point","opacity":0}},
 {"data":{"values":[]},"width":10,"height":51,"mark":{"type":"point","opacity":0}},
 {"data":{"values":[]},"width":10,"height":51,"mark":{"type":"point","opacity":0}},
 {"transform":[{"filter":"datum.p == 10"}],"width":272,"height":135,"encoding":{"x":{"field":"t","type":"quantitative","scale":{"domain":[-200,600],"nice":false,"zero":false},"axis":{"values":[-200,-100,0,100,200,300,400,500,600],"offset":-81,"labelPadding":8,"labelOverlap":false,"title":"ms","titleX":282,"titleY":2,"titleAlign":"left","titleBaseline":"alphabetic","titleAnchor":"start"}},"y":{"field":"v","type":"quantitative","scale":{"domain":[-4,6],"reverse":true,"nice":false,"zero":false},"axis":{"values":[-4,-2,0,2,4,6],"offset":-68,"labelPadding":11,"labelOverlap":false,"title":"μV","titleAngle":0,"titleX":8,"titleY":134,"titleAlign":"left","titleBaseline":"middle","titleAnchor":"start"}}},
  "layer":[{"transform":[{"filter":"isValid(datum.t2)"}],"mark":{"type":"rect","filled":false,"stroke":"black","strokeWidth":1},"encoding":{"x2":{"field":"t2"},"y2":{"field":"v2"}}},{"transform":[{"filter":"isValid(datum.s)"},{"fold":["s","d"],"as":["k","v"]}],"mark":{"type":"line","stroke":"black","strokeWidth":1,"interpolate":"monotone"},"encoding":{"strokeDash":{"field":"k","type":"nominal","scale":{"domain":["s","d"],"range":[[1,0],[4,2]]},"legend":null}}},{"transform":[{"filter":"isValid(datum.label)"}],"mark":{"type":"text","font":"Noto Sans CJK SC","fontSize":15,"color":"black"},"encoding":{"text":{"field":"label"}}}]},
 {"transform":[{"filter":"datum.p == 11"}],"width":272,"height":135,"encoding":{"x":{"field":"t","type":"quantitative","scale":{"domain":[-200,600],"nice":false,"zero":false},"axis":{"values":[-200,-100,0,100,200,300,400,500,600],"offset":-81,"labelPadding":8,"labelOverlap":false,"title":"ms","titleX":282,"titleY":2,"titleAlign":"left","titleBaseline":"alphabetic","titleAnchor":"start"}},"y":{"field":"v","type":"quantitative","scale":{"domain":[-4,6],"reverse":true,"nice":false,"zero":false},"axis":{"values":[-4,-2,0,2,4,6],"offset":-68,"labelPadding":11,"labelOverlap":false,"title":"μV","titleAngle":0,"titleX":8,"titleY":134,"titleAlign":"left","titleBaseline":"middle","titleAnchor":"start"}}},
  "layer":[{"transform":[{"filter":"isValid(datum.t2)"}],"mark":{"type":"rect","filled":false,"stroke":"black","strokeWidth":1},"encoding":{"x2":{"field":"t2"},"y2":{"field":"v2"}}},{"transform":[{"filter":"isValid(datum.s)"},{"fold":["s","d"],"as":["k","v"]}],"mark":{"type":"line","stroke":"black","strokeWidth":1,"interpolate":"monotone"},"encoding":{"strokeDash":{"field":"k","type":"nominal","scale":{"domain":["s","d"],"range":[[1,0],[4,2]]},"legend":null}}},{"transform":[{"filter":"isValid(datum.label)"}],"mark":{"type":"text","font":"Noto Sans CJK SC","fontSize":15,"color":"black"},"encoding":{"text":{"field":"label"}}}]},
 {"transform":[{"filter":"datum.p == 12"}],"width":272,"height":135,"encoding":{"x":{"field":"t","type":"quantitative","scale":{"domain":[-200,600],"nice":false,"zero":false},"axis":{"values":[-200,-100,0,100,200,300,400,500,600],"offset":-81,"labelPadding":8,"labelOverlap":false,"title":"ms","titleX":282,"titleY":2,"titleAlign":"left","titleBaseline":"alphabetic","titleAnchor":"start"}},"y":{"field":"v","type":"quantitative","scale":{"domain":[-4,6],"reverse":true,"nice":false,"zero":false},"axis":{"values":[-4,-2,0,2,4,6],"offset":-68,"labelPadding":11,"labelOverlap":false,"title":"μV","titleAngle":0,"titleX":8,"titleY":134,"titleAlign":"left","titleBaseline":"middle","titleAnchor":"start"}}},
  "layer":[{"transform":[{"filter":"isValid(datum.t2)"}],"mark":{"type":"rect","filled":false,"stroke":"black","strokeWidth":1},"encoding":{"x2":{"field":"t2"},"y2":{"field":"v2"}}},{"transform":[{"filter":"isValid(datum.s)"},{"fold":["s","d"],"as":["k","v"]}],"mark":{"type":"line","stroke":"black","strokeWidth":1,"interpolate":"monotone"},"encoding":{"strokeDash":{"field":"k","type":"nominal","scale":{"domain":["s","d"],"range":[[1,0],[4,2]]},"legend":null}}},{"transform":[{"filter":"isValid(datum.label)"}],"mark":{"type":"text","font":"Noto Sans CJK SC","fontSize":15,"color":"black"},"encoding":{"text":{"field":"label"}}}]}
],
"columns":3,
"spacing":{"row":0,"column":60},
"bounds":"flush",
"resolve":{"scale":{"strokeDash":"independent"},"legend":{"strokeDash":"independent"}},
"config":{
 "view":{"stroke":null},
 "axis":{"domainColor":"black","tickColor":"black","labelColor":"black","titleColor":"black","labelFont":"Liberation Serif","labelFontSize":16,"titleFont":"Liberation Serif","titleFontSize":16,"titleFontWeight":"normal","grid":false,"tickSize":-4,"labelBound":false,"labelFlush":false,"domainWidth":1,"tickWidth":1},
 "legend":{"title":null,"symbolType":"stroke","symbolStrokeColor":"black","symbolStrokeWidth":1,"symbolSize":400,"labelFont":"Noto Sans CJK SC","labelFontSize":15,"labelColor":"black","rowPadding":0,"labelOffset":3,"direction":"vertical"}
}
}
